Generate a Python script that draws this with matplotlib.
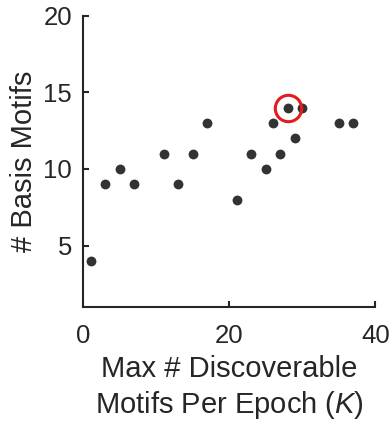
import matplotlib
matplotlib.use("Agg")
import matplotlib.pyplot as plt

# values
max_motifs = [1, 3, 5, 7, 11, 13, 15, 17, 21, 23, 25, 26, 27, 28, 29, 30, 35, 37]
basis_motifs = [4, 9, 10, 9, 11, 9, 11, 13, 8, 11, 10, 13, 11, 14, 12, 14, 13, 13]
chosen_k = 28
chosen_basis = 14

plt.rcParams["font.family"] = ["Liberation Sans", "DejaVu Sans"]
plt.rcParams["mathtext.fontset"] = "custom"
plt.rcParams["mathtext.it"] = "Liberation Sans:italic"
plt.rcParams["mathtext.rm"] = "Liberation Sans"

dark = "#262626"

fig = plt.figure(figsize=(3.92, 4.24), dpi=100)
ax = fig.add_axes([0.2125, 0.276, 0.745, 0.687])

ax.scatter(max_motifs, basis_motifs, s=50, color="#333333", zorder=3, linewidths=0)
ax.plot([chosen_k], [chosen_basis], "o", markersize=19, markerfacecolor="none",
        markeredgecolor="#e41a1c", markeredgewidth=2.2, zorder=4)

ax.set_xlim(0, 40)
ax.set_ylim(1, 20)
ax.set_xticks([0, 20, 40])
ax.set_yticks([5, 10, 15, 20])

for side in ["top", "right"]:
    ax.spines[side].set_visible(False)
for side in ["left", "bottom"]:
    ax.spines[side].set_linewidth(1.5)
    ax.spines[side].set_color(dark)

ax.tick_params(direction="in", length=4, width=1.5, colors=dark, labelsize=18.5, pad=8)
ax.tick_params(axis="x", pad=12)
ax.set_xlabel("Max # Discoverable\nMotifs Per Epoch ($\\mathit{K}$)", fontsize=21, color=dark,
              labelpad=5, linespacing=1.25)
ax.set_ylabel("# Basis Motifs", fontsize=21, color=dark, labelpad=4)

fig.savefig("out.png", dpi=100)
